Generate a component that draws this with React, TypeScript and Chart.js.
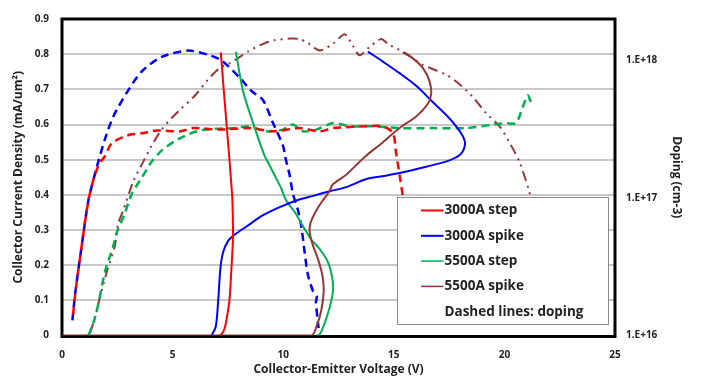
import React, { useEffect, useRef } from "react";
import { Chart, registerables } from "chart.js";

Chart.register(...registerables);

// ---- axes ----
const xTickStep = 5;
const xMin = 0;
const xMax = 25;
const yMin = 0;
const yMax = 0.9;
const yTickStep = 0.1;
const dopingMin = 1e16;
const dopingMax = 2e18;
const dopingTicks = [1e16, 1e17, 1e18];

// ---- legend ----
const seriesNames = ["3000A step", "3000A spike", "5500A step", "5500A spike"];
const legendNote = "Dashed lines: doping";

// ---- I-V curves (left axis, mA/um^2) ----
const redStepX = [7.1, 7.21, 7.35, 7.45, 7.57, 7.66, 7.73, 7.71, 7.69, 7.57, 7.44, 7.31, 7.18];
const redStepY = [0, 0.003, 0.02, 0.05, 0.1, 0.19, 0.28, 0.37, 0.4, 0.5, 0.6, 0.7, 0.805];

const blueSpikeX = [6.76, 6.95, 7.06, 7.16, 7.28, 7.51, 7.81, 8.34, 9.09, 9.84, 10.6, 11.35, 12.1, 12.85, 13.76, 14.5, 15.26, 16.46, 17.52, 18.04, 18.22, 18.12, 17.82, 17.37, 16.76, 16.01, 15.26, 14.5, 13.83];
const blueSpikeY = [0, 0.025, 0.098, 0.19, 0.236, 0.269, 0.287, 0.31, 0.342, 0.365, 0.384, 0.397, 0.41, 0.422, 0.445, 0.453, 0.462, 0.48, 0.498, 0.517, 0.545, 0.567, 0.595, 0.627, 0.664, 0.71, 0.746, 0.779, 0.807];

const greenStepX = [11.5, 11.65, 11.87, 12.1, 12.25, 12.22, 12.02, 11.65, 11.27, 10.9, 10.52, 10.14, 9.9, 9.6, 9.3, 9.15, 8.64, 8.18, 7.86];
const greenStepY = [0, 0.003, 0.034, 0.08, 0.126, 0.163, 0.209, 0.246, 0.273, 0.31, 0.351, 0.383, 0.42, 0.457, 0.494, 0.512, 0.604, 0.696, 0.807];

const brownSpikeX = [0, 11.27, 11.5, 11.72, 11.83, 11.77, 11.57, 11.35, 11.2, 11.23, 11.5, 11.8, 12.1, 12.25, 12.85, 13.0, 13.76, 14.5, 15.26, 16.01, 16.54, 16.69, 16.61, 16.31, 15.86, 15.41];
const brownSpikeY = [0, 0, 0.025, 0.071, 0.126, 0.172, 0.218, 0.255, 0.292, 0.319, 0.356, 0.385, 0.411, 0.43, 0.457, 0.466, 0.512, 0.549, 0.59, 0.623, 0.659, 0.687, 0.724, 0.761, 0.788, 0.805];

// ---- doping profiles (right axis, cm^-3) ----
const redDopX = [0.5, 0.62, 0.89, 1.19, 1.45, 1.7, 1.94, 2.17, 2.39, 2.77, 3.14, 3.6, 4.27, 5.33, 5.93, 7.13, 8.49, 9.54, 10.74, 11.65, 12.25, 13.76, 14.5, 14.96, 15.1, 15.26, 15.41, 15.5];
const redDopY = [1.42e16, 2.15e16, 4.48e16, 9.52e16, 1.41e17, 1.79e17, 2.01e17, 2.4e17, 2.59e17, 2.78e17, 2.9e17, 2.95e17, 3.09e17, 3.05e17, 3.22e17, 3.14e17, 3.22e17, 3.05e17, 3.22e17, 3.05e17, 3.22e17, 3.32e17, 3.32e17, 2.98e17, 2.15e17, 1.47e17, 1.01e17, 5.84e16];

const blueDopX = [0.47, 0.59, 0.89, 1.19, 1.56, 1.94, 2.32, 2.92, 3.6, 4.5, 5.7, 6.6, 7.21, 8.04, 8.56, 9.09, 9.54, 9.99, 10.11, 10.29, 10.44, 10.67, 10.82, 10.97, 11.12, 11.35, 11.52, 11.48, 11.55, 11.6];
const blueDopY = [1.29e16, 1.99e16, 4.48e16, 9.52e16, 1.65e17, 2.67e17, 3.91e17, 5.8e17, 8.3e17, 1.06e18, 1.18e18, 1.1e18, 1.0e18, 7.47e17, 6.01e17, 5.13e17, 3.5e17, 2.4e17, 1.93e17, 1.47e17, 1.07e17, 8.12e16, 6.2e16, 4.01e16, 2.75e16, 2.1e16, 1.93e16, 1.75e16, 1.34e16, 1.13e16];

const greenDopX = [1.19, 1.41, 1.64, 1.94, 2.32, 2.47, 2.84, 3.15, 3.6, 4.05, 4.5, 5.1, 5.7, 6.3, 6.9, 7.81, 8.49, 9.24, 9.99, 10.44, 10.9, 11.5, 12.25, 13.0, 14.0, 15.26, 16.76, 18.27, 19.47, 20.08, 20.53, 20.83, 21.05, 21.2];
const greenDopY = [1.0e16, 1.22e16, 1.69e16, 2.9e16, 4.48e16, 5.58e16, 7.71e16, 1.07e17, 1.4e17, 1.83e17, 2.21e17, 2.59e17, 2.9e17, 3.11e17, 3.18e17, 3.22e17, 3.32e17, 3.05e17, 3.14e17, 3.42e17, 3.05e17, 3.14e17, 3.5e17, 3.32e17, 3.32e17, 3.22e17, 3.22e17, 3.22e17, 3.42e17, 3.5e17, 3.5e17, 4.58e17, 5.57e17, 4.98e17];

const brownDopX = [1.26, 1.49, 1.72, 2.02, 2.39, 2.54, 2.77, 3.22, 3.67, 4.05, 4.5, 4.95, 5.4, 6.0, 6.6, 7.13, 7.6, 8.41, 9.09, 9.6, 10.29, 10.74, 11.05, 11.65, 12.25, 12.78, 13.15, 13.45, 13.9, 14.43, 14.73, 15.56, 16.31, 17.37, 17.97, 18.58, 19.18, 19.78, 20.23, 20.68, 21.13, 21.3];
const brownDopY = [1.04e16, 1.34e16, 1.91e16, 2.88e16, 4.48e16, 6.53e16, 8.12e16, 1.32e17, 1.83e17, 2.4e17, 3.14e17, 3.8e17, 4.48e17, 5.53e17, 7.25e17, 8.81e17, 9.56e17, 1.16e18, 1.32e18, 1.4e18, 1.44e18, 1.43e18, 1.36e18, 1.18e18, 1.32e18, 1.55e18, 1.28e18, 1.09e18, 1.25e18, 1.43e18, 1.32e18, 1.12e18, 9.29e17, 7.88e17, 6.72e17, 5.4e17, 4.12e17, 3.32e17, 2.53e17, 1.83e17, 1.1e17, 7.84e16];

const RED = "#ff0000";
const BLUE = "#0000ff";
const GREEN = "#00b050";
const BROWN = "#953735";
const seriesColors = [RED, BLUE, GREEN, BROWN];
const legendLineWidths = [2, 2, 1.5, 1.5];

const FONT = "'Open Sans', Lato, sans-serif";
const TEXT = "#222222";

const pts = (xs: number[], ys: number[]) => xs.map((x, i) => ({ x, y: ys[i] }));

const borderPlugin = {
  id: "plotBorder",
  beforeDatasetsDraw(chart: any) {
    const { ctx, chartArea } = chart;
    ctx.save();
    ctx.strokeStyle = "#000";
    ctx.lineWidth = 3;
    ctx.strokeRect(chartArea.left, chartArea.top, chartArea.right - chartArea.left, chartArea.bottom - chartArea.top + 1);
    ctx.restore();
  },
};

const boxLegendPlugin = {
  id: "boxLegend",
  afterDatasetsDraw(chart: any) {
    const { ctx } = chart;
    const x0 = 397.5;
    const y0 = 197.5;
    const w = 211;
    const h = 127;
    ctx.save();
    ctx.fillStyle = "#ffffff";
    ctx.fillRect(x0, y0, w, h);
    ctx.strokeStyle = "#8a8a8a";
    ctx.lineWidth = 1;
    ctx.strokeRect(x0, y0, w, h);
    ctx.font = `bold 13.5px ${FONT}`;
    ctx.textBaseline = "middle";
    ctx.fillStyle = TEXT;
    const rows = [...seriesNames, legendNote];
    rows.forEach((label, i) => {
      const y = 210.5 + i * 25.3;
      if (i < seriesColors.length) {
        ctx.strokeStyle = seriesColors[i];
        ctx.lineWidth = legendLineWidths[i];
        ctx.beginPath();
        ctx.moveTo(421, y);
        ctx.lineTo(443.5, y);
        ctx.stroke();
      }
      ctx.fillStyle = TEXT;
      ctx.fillText(label, 444.5, y);
    });
    ctx.restore();
  },
};

export default function App() {
  const canvasRef = useRef<HTMLCanvasElement | null>(null);

  useEffect(() => {
    if (!canvasRef.current) return;
    const solid = (label: string, data: any[], color: string) => ({
      label,
      data,
      borderColor: color,
      backgroundColor: color,
      borderWidth: 2,
      pointRadius: 0,
      tension: 0.3,
      fill: false,
      yAxisID: "y",
    });
    const dashed = (label: string, data: any[], color: string, dash: number[], width: number) => ({
      label,
      data,
      borderColor: color,
      backgroundColor: color,
      borderWidth: width,
      borderDash: dash,
      pointRadius: 0,
      tension: 0.25,
      fill: false,
      yAxisID: "y2",
    });

    const chart = new Chart(canvasRef.current, {
      type: "line",
      data: {
        datasets: [
          solid(seriesNames[3], pts(brownSpikeX, brownSpikeY), BROWN),
          solid(seriesNames[0], pts(redStepX, redStepY), RED),
          solid(seriesNames[1], pts(blueSpikeX, blueSpikeY), BLUE),
          solid(seriesNames[2], pts(greenStepX, greenStepY), GREEN),
          dashed("3000A step doping", pts(redDopX, redDopY), RED, [8, 5], 2.5),
          dashed("3000A spike doping", pts(blueDopX, blueDopY), BLUE, [8, 5], 2.5),
          dashed("5500A step doping", pts(greenDopX, greenDopY), GREEN, [8, 5], 2.5),
          dashed("5500A spike doping", pts(brownDopX, brownDopY), BROWN, [10, 5, 2, 5, 2, 5], 2),
        ],
      },
      options: {
        animation: false,
        responsive: false,
        devicePixelRatio: 1,
        layout: { padding: { top: 9, left: 0, right: 0, bottom: 0 } },
        plugins: { legend: { display: false }, tooltip: { enabled: false } },
        scales: {
          x: {
            type: "linear",
            min: xMin,
            max: xMax,
            ticks: {
              stepSize: xTickStep,
              font: { family: FONT, size: 10, weight: "bold" },
              color: TEXT,
              padding: 14,
            },
            grid: { display: false, drawTicks: false },
            border: { display: false },
            title: {
              display: true,
              text: "Collector-Emitter Voltage (V)",
              font: { family: FONT, size: 12, weight: "bold" },
              color: TEXT,
              padding: { top: 0, bottom: 2 },
            },
            afterFit: (s: any) => {
              s.height = 43.5;
            },
          },
          y: {
            type: "linear",
            position: "left",
            min: yMin,
            max: yMax,
            ticks: {
              stepSize: yTickStep,
              font: { family: FONT, size: 10, weight: "bold" },
              color: TEXT,
              padding: 13,
              callback: (v: any) => (Math.abs(v) < 1e-9 ? "0" : Number(v).toFixed(1)),
            },
            grid: { color: "#c8c8c8", lineWidth: 2, drawTicks: false },
            border: { display: false },
            title: {
              display: true,
              text: "Collector Current Density (mA/um²)",
              font: { family: FONT, size: 12, weight: "bold" },
              color: TEXT,
              padding: { top: 11, bottom: 0 },
            },
            afterFit: (s: any) => {
              s.width = 62;
            },
          },
          y2: {
            type: "logarithmic",
            position: "right",
            min: dopingMin,
            max: dopingMax,
            afterBuildTicks: (s: any) => {
              s.ticks = dopingTicks.map((v) => ({ value: v }));
            },
            ticks: {
              font: { family: FONT, size: 10, weight: "bold" },
              color: TEXT,
              padding: 11,
              callback: (v: any) => `1.E+${Math.round(Math.log10(Number(v)))}`,
            },
            grid: { display: false, drawTicks: false },
            border: { display: false },
            title: {
              display: true,
              text: "Doping (cm-3)",
              font: { family: FONT, size: 12, weight: "bold" },
              color: TEXT,
              padding: { top: 17, bottom: 0 },
            },
            afterFit: (s: any) => {
              s.width = 86;
            },
          },
        },
      } as any,
      plugins: [borderPlugin, boxLegendPlugin],
    });
    return () => chart.destroy();
  }, []);

  return (
    <div style={{ position: "absolute", left: 0, top: 0, width: 701, height: 379, background: "#fff" }}>
      <canvas ref={canvasRef} width={701} height={379} style={{ display: "block" }} />
    </div>
  );
}
